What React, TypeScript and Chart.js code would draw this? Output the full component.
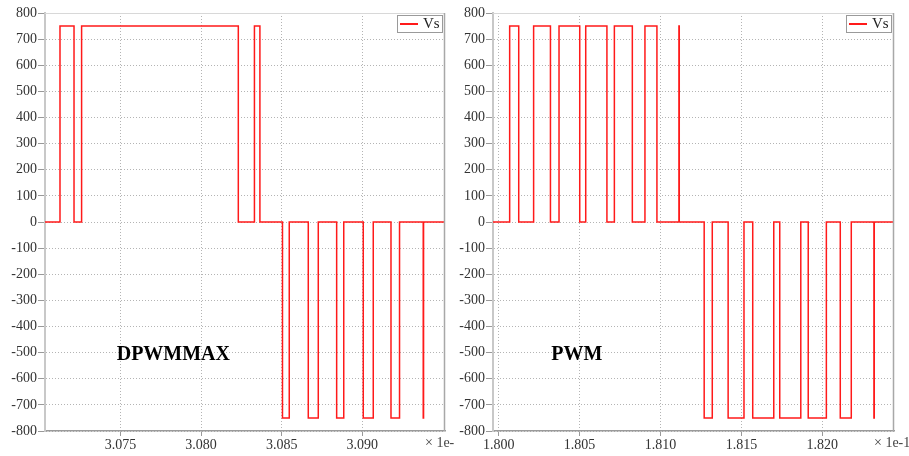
import React, { useEffect, useRef } from 'react';
import { Chart, registerables } from 'chart.js';

Chart.register(...registerables);

// ---- data (times in the axis' own units, volts) ----
const LEFT_TIMES = [
  3.07032, 3.07125, 3.07212, 3.07259, 3.08231, 3.08331, 3.08365, 3.08505, 3.08547,
  3.08665, 3.08727, 3.08841, 3.08885, 3.09006, 3.09068, 3.09178, 3.09231, 3.09378,
  3.0938, 3.09513,
];
const LEFT_VOLTS = [
  0, 750, 0, 750, 0, 750, 0, -750, 0, -750, 0, -750, 0, -750, 0, -750, 0, -750, 0, 0,
];

const RIGHT_TIMES = [
  1.79965, 1.80068, 1.80124, 1.80216, 1.8032, 1.80373, 1.80501, 1.80538, 1.80669,
  1.80715, 1.80826, 1.80904, 1.80978, 1.81114, 1.81116, 1.8127, 1.8132, 1.81418,
  1.81516, 1.8157, 1.817, 1.81737, 1.81867, 1.81913, 1.82025, 1.82111, 1.82179,
  1.82319, 1.82321, 1.82443,
];
const RIGHT_VOLTS = [
  0, 750, 0, 750, 0, 750, 0, 750, 0, 750, 0, 750, 0, 750, 0, -750, 0, -750, 0, -750,
  0, -750, 0, -750, 0, -750, 0, -750, 0, 0,
];

const LEFT_X_TICKS = [3.075, 3.08, 3.085, 3.09];
const RIGHT_X_TICKS = [1.8, 1.805, 1.81, 1.815, 1.82];
const Y_TICKS = [800, 700, 600, 500, 400, 300, 200, 100, 0, -100, -200, -300, -400, -500, -600, -700, -800];

const SERIES_LABEL = 'Vs';
const LEFT_TITLE = 'DPWMMAX';
const RIGHT_TITLE = 'PWM';
const LEFT_EXPONENT = '× 1e-';
const RIGHT_EXPONENT = '× 1e-1';

const SERIF = '"Liberation Serif", "Times New Roman", serif';

const decorPlugin = {
  id: 'decor',
  beforeDatasetsDraw(chart: any, _args: any, o: any) {
    const { ctx } = chart;
    const xs = chart.scales.x;
    const ys = chart.scales.y;
    ctx.save();
    ctx.font = `bold 20px ${SERIF}`;
    ctx.textAlign = 'center';
    ctx.textBaseline = 'middle';
    ctx.fillStyle = '#000';
    ctx.fillText(o.title, xs.getPixelForValue(o.titleX), ys.getPixelForValue(o.titleY));
    ctx.restore();
  },
  afterDraw(chart: any, _args: any, o: any) {
    const { ctx, chartArea: a } = chart;
    ctx.save();
    // top and right frame lines
    ctx.lineWidth = 1;
    ctx.strokeStyle = '#d8d8d8';
    ctx.beginPath();
    ctx.moveTo(a.left, a.top + 0.5);
    ctx.lineTo(a.right, a.top + 0.5);
    ctx.stroke();
    ctx.strokeStyle = '#a8a8a8';
    ctx.lineWidth = 1.5;
    ctx.beginPath();
    ctx.moveTo(a.right - 0.5, a.top);
    ctx.lineTo(a.right - 0.5, a.bottom);
    ctx.stroke();

    // legend box
    const bw = 45;
    const bh = 17;
    const bx = Math.round(a.right - 3 - bw);
    const by = Math.round(a.top + 2);
    ctx.fillStyle = '#fff';
    ctx.fillRect(bx, by, bw, bh);
    ctx.lineWidth = 1;
    ctx.strokeStyle = '#9a9a9a';
    ctx.strokeRect(bx + 0.5, by + 0.5, bw, bh);
    const ds = chart.data.datasets[0];
    ctx.strokeStyle = ds.borderColor;
    ctx.lineWidth = 2;
    ctx.beginPath();
    ctx.moveTo(bx + 3, by + 9);
    ctx.lineTo(bx + 21, by + 9);
    ctx.stroke();
    ctx.fillStyle = '#222';
    ctx.font = `15px ${SERIF}`;
    ctx.textAlign = 'left';
    ctx.textBaseline = 'middle';
    ctx.fillText(ds.label, bx + 26, by + 9.5);

    // axis exponent label
    ctx.font = `14px ${SERIF}`;
    ctx.fillStyle = '#444';
    ctx.fillText(o.exponent, a.right - 20, a.bottom + 12);
    ctx.restore();
  },
};

type PanelProps = {
  left: number;
  width: number;
  yWidth: number;
  rightPad: number;
  times: number[];
  volts: number[];
  xTicks: number[];
  title: string;
  titleX: number;
  titleY: number;
  exponent: string;
};

function Panel(p: PanelProps) {
  const ref = useRef<HTMLCanvasElement | null>(null);
  useEffect(() => {
    if (!ref.current) return;
    const data = p.times.map((t, i) => ({ x: t, y: p.volts[i] }));
    const chart = new Chart(ref.current, {
      type: 'line',
      data: {
        datasets: [
          {
            label: SERIES_LABEL,
            data,
            borderColor: '#ff1a1a',
            backgroundColor: '#ff1a1a',
            borderWidth: 1.5,
            pointRadius: 0,
            stepped: true,
            fill: false,
          },
        ],
      },
      plugins: [decorPlugin],
      options: {
        responsive: false,
        animation: false,
        devicePixelRatio: 1,
        layout: { padding: { top: 13, right: p.rightPad, left: 0, bottom: 0 } },
        plugins: {
          legend: { display: false },
          tooltip: { enabled: false },
          decor: { title: p.title, titleX: p.titleX, titleY: p.titleY, exponent: p.exponent },
        } as any,
        scales: {
          x: {
            type: 'linear',
            min: p.times[0],
            max: p.times[p.times.length - 1],
            afterBuildTicks: (s: any) => {
              s.ticks = p.xTicks.map((v) => ({ value: v }));
            },
            afterFit: (s: any) => {
              s.height = 25;
            },
            ticks: {
              autoSkip: false,
              maxRotation: 0,
              padding: 1,
              color: '#333',
              font: { family: SERIF, size: 14 },
              callback: (v: any) => Number(v).toFixed(3),
            },
            grid: {
              color: '#b4b4b4',
              lineWidth: 1,
              tickLength: 5,
              tickColor: '#999',
              tickBorderDash: [],
            },
            border: { display: true, color: '#9a9a9a', width: 1.5, dash: [1, 2] },
          },
          y: {
            type: 'linear',
            min: -800,
            max: 800,
            afterBuildTicks: (s: any) => {
              s.ticks = Y_TICKS.map((v) => ({ value: v }));
            },
            afterFit: (s: any) => {
              s.width = p.yWidth;
            },
            ticks: {
              autoSkip: false,
              padding: 1,
              color: '#333',
              font: { family: SERIF, size: 14 },
              callback: (v: any) => String(v),
            },
            grid: {
              color: '#b4b4b4',
              lineWidth: 1,
              tickLength: 7,
              tickColor: '#999',
              tickBorderDash: [],
            },
            border: { display: true, color: '#c8c8c8', width: 2, dash: [1, 2] },
          },
        },
      },
    } as any);
    return () => chart.destroy();
  }, []);
  return (
    <div style={{ position: 'absolute', left: p.left, top: 0, width: p.width, height: 456 }}>
      <canvas ref={ref} width={p.width} height={456} style={{ display: 'block' }} />
    </div>
  );
}

export default function App() {
  return (
    <div
      style={{
        position: 'fixed',
        left: 0,
        top: 0,
        width: 909,
        height: 456,
        background: '#fff',
        overflow: 'hidden',
      }}
    >
      <Panel
        left={0}
        width={455}
        yWidth={45}
        rightPad={10}
        times={LEFT_TIMES}
        volts={LEFT_VOLTS}
        xTicks={LEFT_X_TICKS}
        title={LEFT_TITLE}
        titleX={3.07828}
        titleY={-510}
        exponent={LEFT_EXPONENT}
      />
      <Panel
        left={455}
        width={454}
        yWidth={38}
        rightPad={15}
        times={RIGHT_TIMES}
        volts={RIGHT_VOLTS}
        xTicks={RIGHT_X_TICKS}
        title={RIGHT_TITLE}
        titleX={1.80483}
        titleY={-510}
        exponent={RIGHT_EXPONENT}
      />
    </div>
  );
}
